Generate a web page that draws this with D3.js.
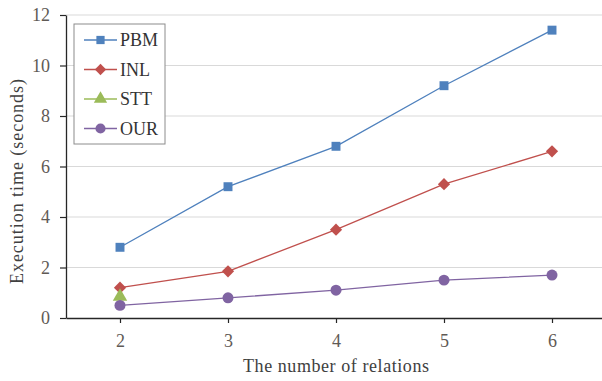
<!DOCTYPE html>
<html>
<head>
<meta charset="utf-8">
<script src="https://cdn.jsdelivr.net/npm/d3@7"></script>
<style>
  body { margin: 0; background: #fff; }
  svg text { font-family: "Liberation Serif", "DejaVu Serif", serif !important; }
</style>
</head>
<body>
<div id="chart"></div>
<script>
    // chart data
    var categories = [2, 3, 4, 5, 6];
    var seriesNames = ["PBM", "INL", "STT", "OUR"];
    var pbmValues = [2.8, 5.2, 6.8, 9.2, 11.4];
    var inlValues = [1.2, 1.85, 3.5, 5.3, 6.6];
    var sttValues = [0.85, null, null, null, null];
    var ourValues = [0.5, 0.8, 1.1, 1.5, 1.7];
    var yTicks = [0, 2, 4, 6, 8, 10, 12];

    var svgWidth = 602;
    var svgHeight = 381;

    var margin = { top: 15, right: -4, bottom: 63, left: 66 };
    var width = svgWidth - margin.left - margin.right;
    var height = svgHeight - margin.top - margin.bottom;

    var serif = "'Liberation Serif', serif";

    var svg = d3.select("#chart")
        .append("svg")
        .attr("width", svgWidth)
        .attr("height", svgHeight)
        .attr("font-family", serif);

    var chartGroup = svg.append("g")
        .attr("transform", `translate(${margin.left}, ${margin.top})`);

    var xScale = d3.scalePoint()
        .domain(categories)
        .range([0, width])
        .padding(0.5);

    var yScale = d3.scaleLinear()
        .domain([0, 12])
        .range([height, 0]);

    // gridlines
    chartGroup.selectAll(".grid")
        .data(yTicks.filter(d => d > 0))
        .enter()
        .append("line")
        .attr("x1", 0)
        .attr("x2", width)
        .attr("y1", d => yScale(d))
        .attr("y2", d => yScale(d))
        .attr("stroke", "#d9d9d9")
        .attr("stroke-width", 1);

    // axes
    var bottomAxis = d3.axisBottom(xScale).tickSizeInner(5).tickSizeOuter(0).tickPadding(11);
    var leftAxis = d3.axisLeft(yScale).tickValues(yTicks).tickSizeInner(6).tickSizeOuter(0).tickPadding(10);

    var xAxisG = chartGroup.append("g")
        .attr("transform", `translate(0, ${height})`)
        .call(bottomAxis);

    var yAxisG = chartGroup.append("g")
        .call(leftAxis);

    [xAxisG, yAxisG].forEach(function(g) {
        g.attr("font-family", serif).attr("font-size", 18);
        g.select(".domain").attr("stroke", "#262626").attr("stroke-width", 1.3);
        g.selectAll(".tick line").attr("stroke", "#262626").attr("stroke-width", 1.2);
        g.selectAll(".tick text").attr("fill", "#5f5a55");
    });

    // series
    var diamond = { draw: function(ctx, size) {
        var r = Math.sqrt(size / 2);
        ctx.moveTo(0, -r); ctx.lineTo(r, 0); ctx.lineTo(0, r); ctx.lineTo(-r, 0); ctx.closePath();
    } };

    var series = [
        { name: "PBM", values: pbmValues, color: "#4F81BD", shape: d3.symbolSquare, size: 80 },
        { name: "INL", values: inlValues, color: "#C0504D", shape: diamond, size: 75 },
        { name: "STT", values: sttValues, color: "#9BBB59", shape: d3.symbolTriangle, size: 90 },
        { name: "OUR", values: ourValues, color: "#8064A2", shape: d3.symbolCircle, size: 95 }
    ];

    var line = d3.line()
        .defined(d => d.v !== null)
        .x(d => xScale(d.c))
        .y(d => yScale(d.v));

    series.forEach(function(s) {
        var pts = categories.map((c, i) => ({ c: c, v: s.values[i] }));
        chartGroup.append("path")
            .datum(pts)
            .attr("fill", "none")
            .attr("stroke", s.color)
            .attr("stroke-width", 1.3)
            .attr("d", line);

        chartGroup.selectAll(".pt-" + s.name)
            .data(pts.filter(d => d.v !== null))
            .enter()
            .append("path")
            .attr("transform", d => `translate(${xScale(d.c)}, ${yScale(d.v)})`)
            .attr("d", d3.symbol().type(s.shape).size(s.size))
            .attr("fill", s.color);
    });

    // legend
    var legend = svg.append("g")
        .attr("transform", "translate(74, 24)");

    legend.append("rect")
        .attr("width", 91)
        .attr("height", 120)
        .attr("fill", "#fff")
        .attr("stroke", "#8c8c8c")
        .attr("stroke-width", 1);

    series.forEach(function(s, i) {
        var ly = 16 + i * 29.5;
        legend.append("line")
            .attr("x1", 10).attr("x2", 43)
            .attr("y1", ly).attr("y2", ly)
            .attr("stroke", s.color)
            .attr("stroke-width", 1.3);
        legend.append("path")
            .attr("transform", `translate(26.5, ${ly})`)
            .attr("d", d3.symbol().type(s.shape).size(s.size * 0.85))
            .attr("fill", s.color);
        legend.append("text")
            .attr("x", 46)
            .attr("y", ly)
            .attr("dy", "0.35em")
            .attr("fill", "#333")
            .attr("font-size", 18)
            .text(s.name);
    });

    // axis titles
    svg.append("text")
        .attr("x", margin.left + xScale(4))
        .attr("y", 372)
        .attr("text-anchor", "middle")
        .attr("fill", "#404040")
        .attr("font-size", 18)
        .attr("textLength", 186)
        .attr("lengthAdjust", "spacing")
        .text("The number  of relations");

    svg.append("text")
        .attr("transform", `translate(23, ${margin.top + height / 2 + 15}) rotate(-90)`)
        .attr("text-anchor", "middle")
        .attr("fill", "#404040")
        .attr("font-size", 18)
        .attr("textLength", 205)
        .attr("lengthAdjust", "spacing")
        .text("Execution time (seconds)");
</script>
</body>
</html>
